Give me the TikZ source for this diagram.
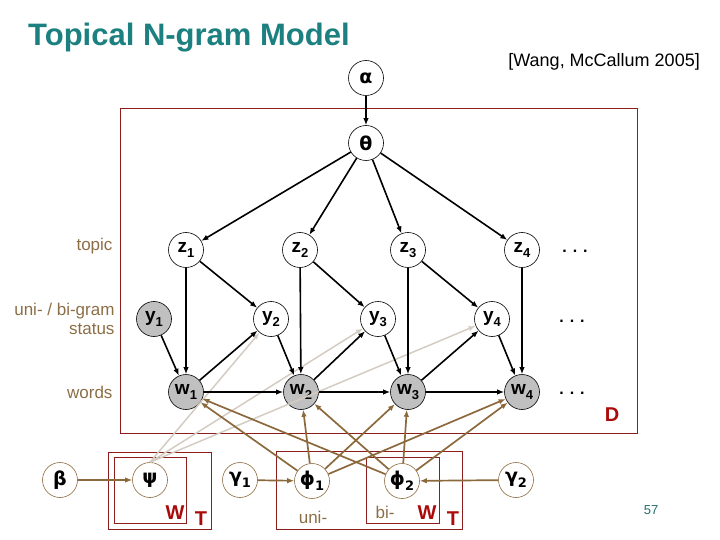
\documentclass[tikz,border=0pt]{standalone}
\usepackage{fontspec}
\setmainfont{Liberation Sans}
\newfontfamily\dejavu{DejaVu Sans}
\usetikzlibrary{arrows.meta}
\definecolor{teal1}{RGB}{28,128,128}
\definecolor{brownlab}{RGB}{140,110,70}
\definecolor{brownarr}{RGB}{140,105,60}
\definecolor{lightarr}{RGB}{212,204,194}
\definecolor{platecol}{RGB}{140,30,30}
\definecolor{platelab}{RGB}{170,10,10}
\definecolor{nodegray}{RGB}{192,192,192}
\definecolor{numcol}{RGB}{40,110,110}
\newcommand{\mysub}[1]{\raisebox{-0.25em}{\fontsize{13}{13}\selectfont #1}}
\begin{document}
\begin{tikzpicture}[x=1pt,y=-1pt,
 varnode/.style={circle,draw=black,line width=0.6pt,minimum size=35pt,inner sep=0pt,font=\fontsize{19}{19}\selectfont\bfseries},
 obsnode/.style={varnode,fill=nodegray},
 hypnode/.style={varnode,draw=brownarr,line width=0.6pt},
 blk/.style={-{Latex[length=7pt,width=5.5pt]},line width=1.6pt,black},
 brn/.style={-{Latex[length=7pt,width=5.5pt]},line width=1.7pt,brownarr},
 lgt/.style={-{Latex[length=7pt,width=5.5pt]},line width=1.5pt,lightarr},
 plate/.style={draw=platecol,line width=0.9pt},
 platelabel/.style={text=platelab,font=\fontsize{20}{20}\selectfont\bfseries},
 sidelabel/.style={text=brownlab,font=\fontsize{17}{19}\selectfont,align=right,anchor=east},
 dotslabel/.style={font=\fontsize{16}{16}\selectfont\bfseries},
 ]
\useasboundingbox (0,0) rectangle (720,540);

% title and citation
\node[anchor=west,text=teal1,font=\fontsize{31}{31}\selectfont\bfseries,inner sep=0pt] (title) at (28,38) {Topical N-gram Model};
\node[anchor=east,font=\fontsize{18}{18}\selectfont,inner sep=0pt] (cite) at (700,62) {[Wang, McCallum 2005]};

% plates
\draw[plate] (120,108) rectangle (637,433);
\draw[plate] (108,452) rectangle (211,529);
\draw[plate] (114,457) rectangle (186,523);
\draw[plate] (276,451) rectangle (462,529);
\draw[plate] (366,457) rectangle (439,523);
\node[platelabel] (labD) at (612,415) {D};
\node[platelabel] (labW1) at (175,513) {W};
\node[platelabel] (labT1) at (201,519) {T};
\node[platelabel] (labW2) at (427,513) {W};
\node[platelabel] (labT2) at (453,519) {T};
\node[text=brownlab,font=\fontsize{17}{17}\selectfont] (uni) at (313,517) {uni-};
\node[text=brownlab,font=\fontsize{17}{17}\selectfont] (bi) at (385,512) {bi-};
\node[text=numcol,font=\fontsize{13}{13}\selectfont] (pg) at (651,510) {57};

% side labels
\node[sidelabel] (ltopic) at (116,246) {topic};
\node[sidelabel] (lstatus) at (118,319) {uni- / bi-gram\\status};
\node[sidelabel] (lwords) at (116,392) {words};

% nodes
\node[varnode] (alpha) at (366,78) {\dejavu α};
\node[varnode] (theta) at (366,143) {\dejavu θ};
\node[varnode] (z1) at (186,250) {z\mysub{1}};
\node[varnode] (z2) at (300,250) {z\mysub{2}};
\node[varnode] (z3) at (408,250) {z\mysub{3}};
\node[varnode] (z4) at (522,250) {z\mysub{4}};
\node[obsnode] (y1) at (154,319) {y\mysub{1}};
\node[varnode] (y2) at (271,319) {y\mysub{2}};
\node[varnode] (y3) at (378,319) {y\mysub{3}};
\node[varnode] (y4) at (492,319) {y\mysub{4}};
\node[obsnode] (w1) at (186,392) {w\mysub{1}};
\node[obsnode] (w2) at (301,392) {w\mysub{2}};
\node[obsnode] (w3) at (408,392) {w\mysub{3}};
\node[obsnode] (w4) at (522,392) {w\mysub{4}};
\node[dotslabel] (d1) at (575,251) {. . .};
\node[dotslabel] (d2) at (572,321) {. . .};
\node[dotslabel] (d3) at (572,393) {. . .};

\node[hypnode] (beta) at (60,480) {\dejavu β};
\node[hypnode] (psi) at (150,480) {\dejavu ψ};
\node[hypnode] (gamma1) at (240,480) {\dejavu γ\mysub{1}};
\node[hypnode] (phi1) at (312,481) {\dejavu ϕ\mysub{1}};
\node[hypnode] (phi2) at (402,481) {\dejavu ϕ\mysub{2}};
\node[hypnode] (gamma2) at (516,480) {\dejavu γ\mysub{2}};

% light arrows psi -> y
\draw[lgt] (psi.north) -- (y2);
\draw[lgt] (psi.north) -- (y3);
\draw[lgt] (psi.north) -- (y4);

% black arrows
\draw[blk] (alpha) -- (theta);
\foreach \i in {1,2,3,4} {\draw[blk] (theta) -- (z\i);}
\foreach \i in {1,2,3,4} {\draw[blk] (z\i) -- (w\i);}
\foreach \i in {1,2,3,4} {\draw[blk] (y\i) -- (w\i);}
\draw[blk] (z1) -- (y2);
\draw[blk] (z2) -- (y3);
\draw[blk] (z3) -- (y4);
\draw[blk] (w1) -- (y2);
\draw[blk] (w2) -- (y3);
\draw[blk] (w3) -- (y4);
\draw[blk] (w1) -- (w2);
\draw[blk] (w2) -- (w3);
\draw[blk] (w3) -- (w4);

% brown arrows
\foreach \i in {1,2,3,4} {\draw[brn] (phi1) -- (w\i); \draw[brn] (phi2) -- (w\i);}
\draw[brn] (beta) -- (psi);
\draw[brn] (gamma1) -- (phi1);
\draw[brn] (gamma2) -- (phi2);
\end{tikzpicture}
\end{document}
